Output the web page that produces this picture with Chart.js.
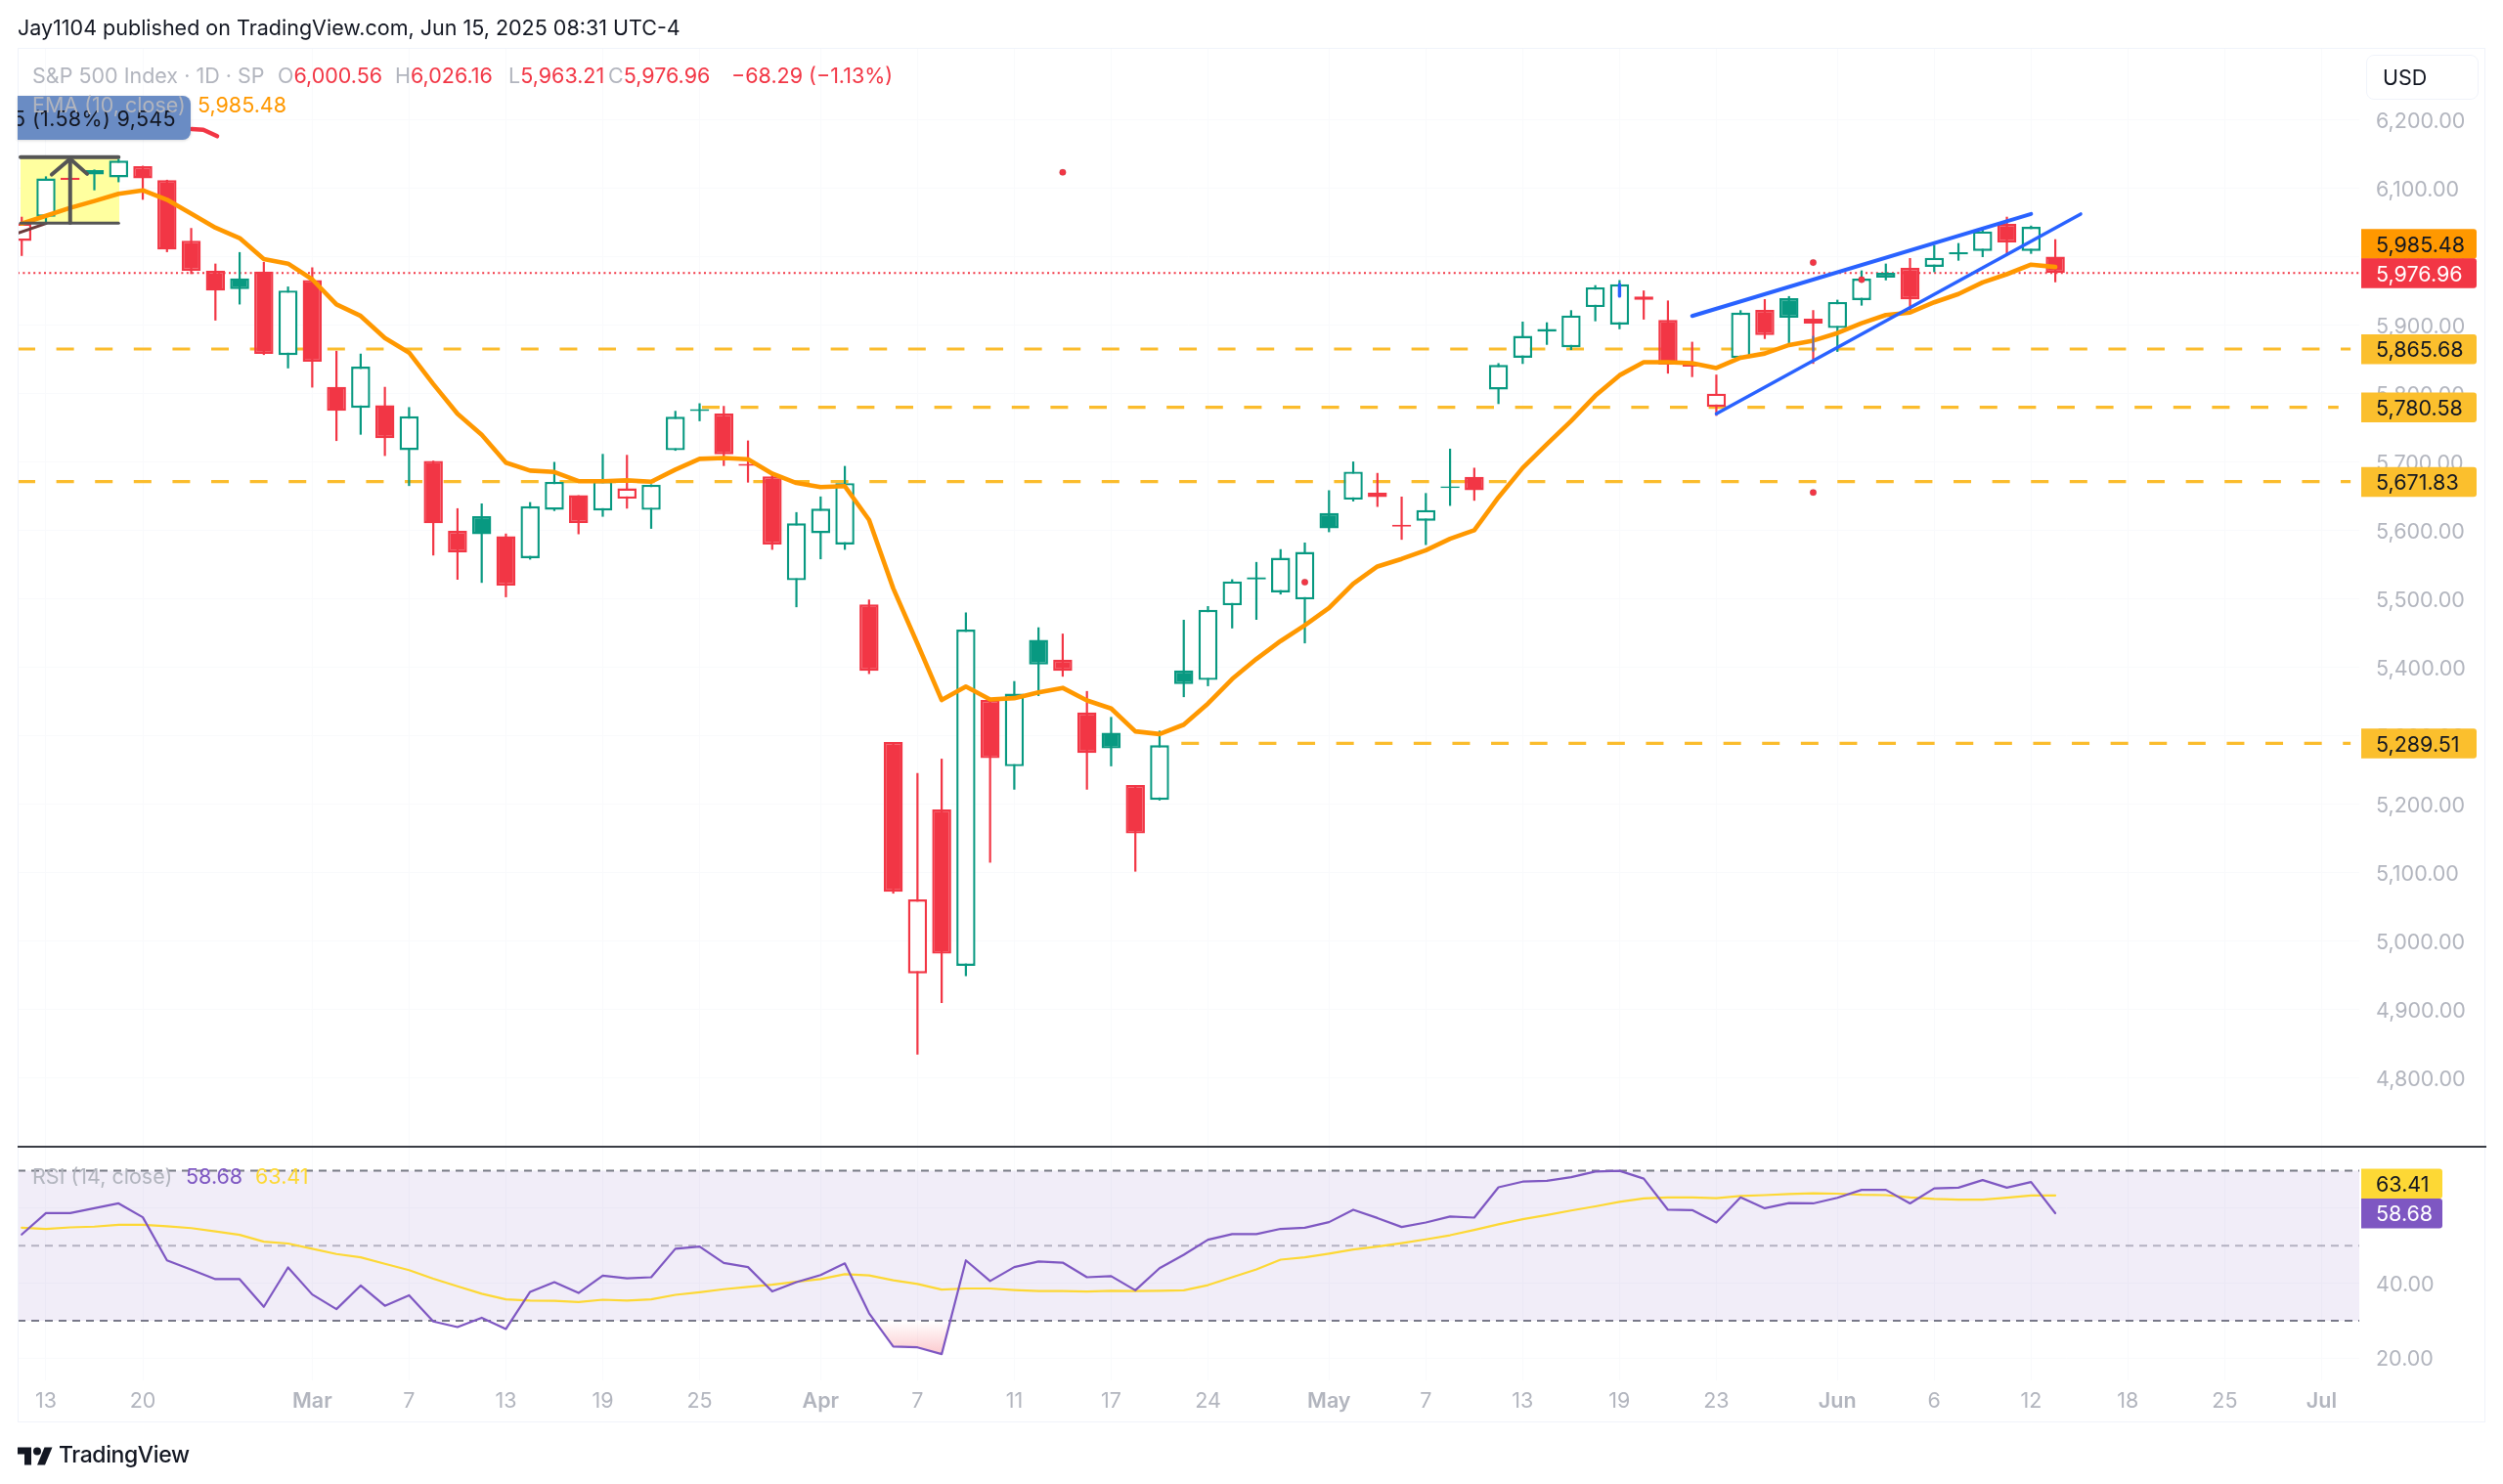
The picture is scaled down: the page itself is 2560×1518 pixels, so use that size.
<!DOCTYPE html>
<html><head><meta charset="utf-8">
<script src="https://cdn.jsdelivr.net/npm/chart.js@4"></script>
<style>
html,body{margin:0;padding:0;background:#fff;width:2560px;height:1518px;overflow:hidden;font-family:Inter,"Noto Sans",sans-serif}
canvas{position:absolute;left:0}
.t{position:absolute;white-space:nowrap;font-size:21.5px;line-height:26px}
.g{color:#b2b5be}.r{color:#f23645}
</style></head><body>
<canvas id="priceCanvas" width="2560" height="1173" style="top:0"></canvas>
<canvas id="rsiCanvas" width="2560" height="345" style="top:1173px"></canvas>
<div style="position:absolute;left:18px;top:49px;width:2524px;height:1406px;border:1px solid #f0f3fa;box-sizing:border-box;pointer-events:none"></div>
<div style="position:absolute;left:18px;top:1172px;width:2525px;height:2px;background:#3a3d45"></div>
<div class="t" style="left:18px;top:15px;color:#131722">Jay1104 published on TradingView.com, Jun 15, 2025 08:31 UTC-4</div>
<div class="t g" style="left:33px;top:64px">S&amp;P 500 Index · 1D · SP</div>
<div class="t g" style="left:284px;top:64px">O<span class="r">6,000.56</span></div>
<div class="t g" style="left:404px;top:64px">H<span class="r">6,026.16</span></div>
<div class="t g" style="left:520px;top:64px">L<span class="r">5,963.21</span></div>
<div class="t g" style="left:622px;top:64px">C<span class="r">5,976.96</span></div>
<div class="t r" style="left:748px;top:64px">−68.29 (−1.13%)</div>
<div style="position:absolute;left:18px;top:98px;width:177px;height:45px;background:#6a8cc4;border-radius:0 8px 8px 0;overflow:hidden;box-shadow:0 1px 3px rgba(0,0,0,.15)">
  <div class="t" style="right:15px;top:10px;color:#131722;letter-spacing:.35px">5 (1.58%) 9,545</div>
</div>
<div class="t g" style="left:33px;top:94px">EMA (10, close)</div>
<div class="t" style="left:202px;top:94px;color:#ff9800">5,985.48</div>
<div class="t g" style="left:33px;top:1190px">RSI (14, close)</div>
<div class="t" style="left:190px;top:1190px;color:#7e57c2">58.68</div>
<div class="t" style="left:261px;top:1190px;color:#fdd835">63.41</div>
<div style="position:absolute;left:2420px;top:56px;width:115px;height:46px;border:1px solid #f0f3fa;border-radius:8px;box-sizing:border-box"></div>
<div class="t" style="left:2437px;top:66px;color:#131722">USD</div>
<svg style="position:absolute;left:18px;top:1475px" width="36" height="27" viewBox="0 0 36 24"><path fill="#131722" d="M14 22H7V11H0V4h14v18zM28 22h-8l7.5-18h8L28 22z"/><circle fill="#131722" cx="20" cy="8" r="4"/></svg>
<div class="t" style="left:60px;top:1475px;color:#131722;font-size:23px;font-weight:500;letter-spacing:-.4px">TradingView</div>
<script>
// ---- data; bar index 0 = Feb 13, index -1 = Feb 12 ----
const firstBar = -1;
const tickBars   = [0,4,11,15,19,23,27,32,36,40,44,48,53,57,61,65,69,74,78,82,86,90,94];
const tickLabels = ['13','20','Mar','7','13','19','25','Apr','7','11','17','24','May','7','13','19','23','Jun','6','12','18','25','Jul'];
const monthLabels = ['Mar','Apr','May','Jun','Jul'];
const priceTicks = [6200,6100,6000,5900,5800,5700,5600,5500,5400,5300,5200,5100,5000,4900,4800];
const rsiTicks = [60,40,20];
const opens = [6023.6,6059,6116,6120.6,6116.5,6132.8,6112.4,6024,5980,5969,5979,5856.8,5966.5,5810.4,5779.8,5783.4,5718,5702.2,5600,5621.6,5592,5560,5630.8,5652,5629.8,5647,5630.6,5717.7,5775,5771.4,5698,5679.7,5527.7,5596.5,5580,5492.4,5291.3,4953.3,5193,4964.4,5352.8,5255.9,5440.6,5411.8,5334.5,5305,5228.4,5206.8,5396,5382,5491.3,5529,5510,5499.9,5625.9,5645.6,5655.7,5609,5614.7,5662.5,5679,5806.5,5853,5895,5868.2,5927,5901.6,5942.6,5908.2,5843,5781.2,5852.6,5922.9,5940,5903,5896.3,5937.2,5977.2,5984.3,5985.8,6004,6009,6048.6,6009,6000.56];
const highs = [6059,6118,6125.7,6128,6143.5,6133.5,6113,6042.5,5990.5,6007.3,5993,5957,5985,5863,5858.9,5810.4,5780.8,5702.5,5633,5640,5596,5642,5700.7,5652,5712.4,5711,5668,5775.3,5786.4,5782.5,5732,5685,5627.3,5650.2,5694.8,5499.6,5291.3,5246,5267,5480.6,5354,5380.4,5459,5449.8,5365.9,5328,5228.4,5308,5470,5490,5529.2,5554.5,5573.2,5582.9,5659.3,5701.3,5684.6,5650,5655.2,5720,5692.2,5845,5905.7,5904.7,5922.4,5959,5966.4,5951.2,5936.6,5876.3,5828.3,5922.4,5938.6,5943,5922.5,5937.7,5980.5,5990.5,5998.6,6017.7,6020.5,6043.8,6059,6046,6026.16];
const lows = [6001.7,6049,6107.8,6097.6,6109.4,6083.8,6007.3,5975.2,5907.3,5930.8,5857,5837.4,5809.4,5731.3,5740.5,5709.4,5665.5,5564,5528.6,5524,5503,5558,5629,5595,5620.6,5632.5,5603,5717,5760.2,5694.8,5670.5,5572.3,5488.4,5558.5,5572.3,5390.8,5069.9,4834.7,4910,4949.4,5115.1,5221.8,5358.7,5386.9,5221.8,5255.9,5102,5206,5357,5373,5457.4,5470,5507,5435.6,5598,5643,5635,5586.9,5579.3,5636.5,5644,5785.3,5843.9,5871.8,5864.2,5906.2,5894.6,5908.7,5829.8,5824.7,5768,5851,5880.4,5874.4,5844,5861.5,5929.1,5966,5922.5,5978,5994.8,6000,6002.4,6004.8,5963.21];
const closes = [6049,6115,6113,6127.2,6141,6115,6010.9,5980,5951,5953.2,5858.4,5951.2,5847,5775.2,5840,5735.4,5767.5,5611,5568.6,5595,5520,5636,5671.6,5611.4,5672.6,5662,5667.2,5766.8,5778,5711.8,5695,5580,5610.9,5632.5,5669.8,5395.4,5072.5,5061.4,4982,5455.7,5267.7,5362,5404.6,5395.4,5275.5,5282,5157.7,5286.7,5376,5484.5,5526.2,5532,5560.6,5569.2,5603.6,5686.6,5649.2,5606,5630.4,5665,5659.3,5842.4,5884.9,5891,5914.8,5955.8,5960.3,5937.6,5843,5840,5800.4,5918.8,5886,5911.5,5910,5934.4,5968.6,5970,5938.2,5999,6007,6037.6,6021.5,6044.3,5976.96];
const closeBeforeFirst = 6068.5;
const ema10 = [6049,6060.4,6072,6082,6092.5,6097.6,6083.8,6063.5,6043,6027.7,5997,5990.5,5967.5,5930.8,5914,5881.8,5860.4,5814.5,5771,5740.5,5699.7,5688,5686,5672.6,5672.6,5673.8,5671.8,5689.5,5705.2,5706.5,5704.6,5683.6,5669.9,5664,5665.3,5616.1,5515.9,5435,5352.8,5372.5,5353.5,5355.5,5364,5370.5,5352.2,5340.4,5307,5303,5316.8,5347.6,5383.5,5412.8,5439,5461.9,5487.2,5522.7,5547.9,5559,5571.7,5588.4,5601,5649,5692,5726.6,5760.5,5797.4,5827.3,5846.5,5846.5,5845,5837.9,5853,5859.1,5871.5,5878,5889,5903.4,5915.3,5919,5934,5946,5963,5975,5989,5985.48];
const rsi14 = [53.0,58.7,58.7,60.0,61.3,57.6,46.1,43.6,41.1,41.1,33.7,44.2,37.0,33.1,39.4,34.0,36.8,29.8,28.3,30.8,27.8,37.7,40.3,37.4,42.0,41.3,41.6,49.2,49.8,45.4,44.3,37.8,40.3,42.2,45.3,32.0,23.1,22.9,21.1,46.1,40.6,44.3,45.8,45.5,41.6,41.9,38.1,44.0,47.6,51.6,53.1,53.1,54.5,54.8,56.3,59.6,57.4,55.0,56.2,57.8,57.5,65.6,67.1,67.3,68.3,69.8,70.0,67.9,59.6,59.5,56.2,62.9,60.0,61.4,61.3,62.8,64.9,64.9,61.3,65.3,65.5,67.5,65.5,67.0,58.68];
const rsiMa = [54.8,54.5,54.9,55.1,55.6,55.6,55.2,54.7,53.8,52.9,51.1,50.6,49.2,47.8,46.9,45.2,43.5,41.2,39.2,37.2,35.7,35.4,35.3,35.0,35.6,35.4,35.7,36.9,37.6,38.4,39.0,39.6,40.4,41.1,42.4,42.1,40.8,39.8,38.3,38.6,38.6,38.2,37.9,37.9,37.8,38.0,37.9,38.0,38.1,39.5,41.6,43.7,46.3,46.9,47.9,49.0,49.8,50.7,51.7,52.8,54.2,55.7,57.1,58.2,59.4,60.5,61.7,62.6,62.9,62.9,62.7,63.3,63.5,63.8,64.0,63.9,63.6,63.5,62.9,62.5,62.3,62.3,62.8,63.4,63.41];
const levelValues = [5865.68,5780.58,5671.83,5289.51];
const levelStarts = [-1.17,27.1,-1.17,46.9];
const levelEnds   = [95.2,94.7,95.2,95.2];
const lastClose = 5976.96, lastEma = 5985.48, lastRsi = 58.68, lastRsiMa = 63.41;
const upperTrendBars = [68,82], upperTrendPrices = [5913.9,6063];
const lowerTrendBars = [69,84.05], lowerTrendPrices = [5771,6063];
const dotBars = [42,52,73,73,75], dotPrices = [6124,5525,5992,5656,5967];
const boxBars = [0.99], boxLow = 6049.5, boxHigh = 6146;
const boxTopBars = [-1.05,3], boxBottomBars = [-1.05,3];
const arrowBars = [0.24,1,1.7], arrowPrices = [6120.6,6143.6,6121.6];
const stemBars = [1,1], stemPrices = [6050,6143.6];
const redCurveBars = [6.02,6.5,7.07], redCurvePrices = [6187,6186,6176.7];
const darkSegBars = [-1.17,0], darkSegPrices = [6035,6049];
const blueTickBars = [65,65], blueTickPrices = [5960,5943];
const blueTick2Bars = [73,73], blueTick2Prices = [5884,5863];
const rsiBandHigh = 70, rsiBandMid = 50, rsiBandLow = 30;

// ---- scale windows ----
const xMin = -1.171, xMax = 95.557;
const bars = closes.map((_,i)=>firstBar+i);
const FONT = 'Inter, "Noto Sans", sans-serif';
const GREEN='#089981', RED='#f23645', TICK='#b2b5be', GRID='#f9fafc';
const pts=(xs,ys)=>xs.map((x,i)=>({x,y:ys[i]}));
const isUp = closes.map((c,i)=> c > (i?closes[i-1]:closeBeforeFirst));
const colors = isUp.map(u=>u?GREEN:RED);
const fills = closes.map((c,i)=> c>opens[i] ? '#ffffff' : colors[i]);
const ln=(data,color,width,order,extra)=>Object.assign({type:'line',data,borderColor:color,borderWidth:width,pointRadius:0,tension:0,fill:false,order,borderCapStyle:'round',borderJoinStyle:'round'},extra||{});
const noPad=a=>{a.paddingTop=a.paddingBottom=a.paddingLeft=a.paddingRight=0;};

function xAxis(show){
  return {type:'linear',min:xMin,max:xMax,offset:false,
    afterBuildTicks:a=>{a.ticks=tickBars.map(v=>({value:v}));},
    afterFit:a=>{a.height=show?43:0;noPad(a);},
    grid:{color:GRID,drawTicks:false,offset:false},border:{display:false},
    ticks:{display:show,autoSkip:false,maxRotation:0,color:TICK,padding:9,
      font:c=>({family:FONT,size:21.5,weight:c.tick&&monthLabels.includes(c.tick.label)?600:400}),
      callback:v=>tickLabels[tickBars.indexOf(v)]}};
}
function yAxis(min,max,ticks,fmt){
  return {type:'linear',position:'right',min,max,
    afterBuildTicks:a=>{a.ticks=ticks.map(v=>({value:v}));},
    afterFit:a=>{a.width=130;noPad(a);},
    grid:{color:GRID,drawTicks:false},border:{display:false},
    ticks:{autoSkip:false,color:TICK,padding:17,labelOffset:1.5,font:{family:FONT,size:21.5},callback:fmt}};
}
const fmt2=v=>v.toLocaleString('en-US',{minimumFractionDigits:2,maximumFractionDigits:2});
function tagPlugin(getTags,w){
  return {id:'tags',afterDraw(ch){
    const c=ch.ctx,s=ch.scales.y,x0=ch.chartArea.right+2;
    c.save();c.font='21.5px '+FONT;c.textBaseline='middle';
    getTags(s).forEach(t=>{
      c.fillStyle=t.bg;c.beginPath();c.roundRect(x0,t.y-15,w,30.5,[0,3,3,0]);c.fill();
      c.fillStyle=t.fg;c.textAlign='left';c.fillText(t.text,2430,t.y+2);
    });
    c.restore();
  }};
}
const common={responsive:false,animation:false,devicePixelRatio:1,events:[],
  plugins:{legend:{display:false},tooltip:{enabled:false}}};

const levelSets=levelValues.map((v,i)=>ln(pts([levelStarts[i],levelEnds[i]],[v,v]),'#fbbc2c',3.2,60,{borderDash:[18,21.6],borderCapStyle:'butt'}));

new Chart(document.getElementById('priceCanvas'),{
  data:{datasets:[
    {type:'bar',data:boxBars.map(x=>({x,y:[boxLow,boxHigh]})),backgroundColor:'#ffff9f',barThickness:101,grouped:false,order:90,inflateAmount:0},
    ...levelSets,
    ln(pts([xMin,xMax],[lastClose,lastClose]),RED,2,55,{borderDash:[2,3.4],borderCapStyle:'butt'}),
    {type:'bar',data:bars.map((x,i)=>({x,y:[lows[i],highs[i]]})),backgroundColor:colors,barThickness:2.2,grouped:false,order:50,inflateAmount:0},
    {type:'bar',data:bars.map((x,i)=>({x,y:[opens[i],closes[i]]})),backgroundColor:fills,borderColor:colors,borderWidth:2.4,borderSkipped:false,barThickness:19.5,grouped:false,order:40,inflateAmount:0},
    ln(pts(bars,ema10),'#ff9800',4.6,30),
    ln(pts(boxTopBars,[boxHigh,boxHigh]),'#555555',4,20),
    ln(pts(boxBottomBars,[boxLow,boxLow]),'#555555',3,20),
    ln(pts(stemBars,stemPrices),'#555555',4,20),
    ln(pts(arrowBars,arrowPrices),'#555555',4,20),
    ln(pts(darkSegBars,darkSegPrices),'#6b3a3a',3,20),
    ln(pts(redCurveBars,redCurvePrices),RED,4.5,20),
    ln(pts(upperTrendBars,upperTrendPrices),'#2962ff',4,10),
    ln(pts(lowerTrendBars,lowerTrendPrices),'#2962ff',3.4,10),
    ln(pts(blueTickBars,blueTickPrices),'#2962ff',3.4,10),
    ln(pts(blueTick2Bars,blueTick2Prices),'#5a6fb0',2,10),
    {type:'scatter',data:pts(dotBars,dotPrices),backgroundColor:RED,pointRadius:3.3,order:5}
  ]},
  options:{...common,
    layout:{autoPadding:false,padding:{left:18,top:49,right:17,bottom:0}},
    scales:{x:xAxis(false),y:yAxis(4700,6305.71,priceTicks,fmt2)}},
  plugins:[tagPlugin(s=>{
    const yLast=s.getPixelForValue(lastClose);
    const tags=levelValues.map(v=>({y:s.getPixelForValue(v),bg:'#fbbf2d',fg:'#131722',text:fmt2(v)}));
    tags.push({y:Math.min(s.getPixelForValue(lastEma),yLast-30),bg:'#ff9800',fg:'#131722',text:fmt2(lastEma)});
    tags.push({y:yLast,bg:RED,fg:'#ffffff',text:fmt2(lastClose)});
    return tags;
  },118)]
});

const rsiBandColor='rgba(126,87,194,0.11)';
const rsiChart=new Chart(document.getElementById('rsiCanvas'),{
  data:{datasets:[
    ln(pts([xMin,xMax],[rsiBandHigh,rsiBandHigh]),'#787b86',2,50,{borderDash:[8,6],borderCapStyle:'butt',fill:{target:2,above:rsiBandColor,below:rsiBandColor}}),
    ln(pts([xMin,xMax],[rsiBandMid,rsiBandMid]),'rgba(120,123,134,.5)',2,50,{borderDash:[8,6],borderCapStyle:'butt'}),
    ln(pts([xMin,xMax],[rsiBandLow,rsiBandLow]),'#787b86',2,50,{borderDash:[8,6],borderCapStyle:'butt'}),
    ln(pts(bars,rsi14),'#7e57c2',2.2,10,{fill:{target:{value:rsiBandLow},above:'rgba(0,0,0,0)',below:'rgba(242,54,69,.2)'}}),
    ln(pts(bars,rsiMa),'#fdd835',2.2,20)
  ]},
  options:{...common,
    layout:{autoPadding:false,padding:{left:18,top:1,right:17,bottom:63}},
    scales:{x:xAxis(true),y:yAxis(14.09,76.15,rsiTicks,fmt2)}},
  plugins:[tagPlugin(s=>{
    const yRsi=s.getPixelForValue(lastRsi);
    return [
      {y:Math.min(s.getPixelForValue(lastRsiMa),yRsi-30.5),bg:'#fdd835',fg:'#131722',text:lastRsiMa.toFixed(2)},
      {y:yRsi,bg:'#7e57c2',fg:'#ffffff',text:lastRsi.toFixed(2)}
    ];
  },83)]
});
(function(){
  const s=rsiChart.scales.y,g=rsiChart.ctx.createLinearGradient(0,s.getPixelForValue(30),0,s.getPixelForValue(20));
  g.addColorStop(0,'rgba(242,54,69,0)');g.addColorStop(1,'rgba(242,54,69,.3)');
  rsiChart.data.datasets[3].fill.below=g;
  rsiChart.update('none');
})();
</script>
</body></html>
